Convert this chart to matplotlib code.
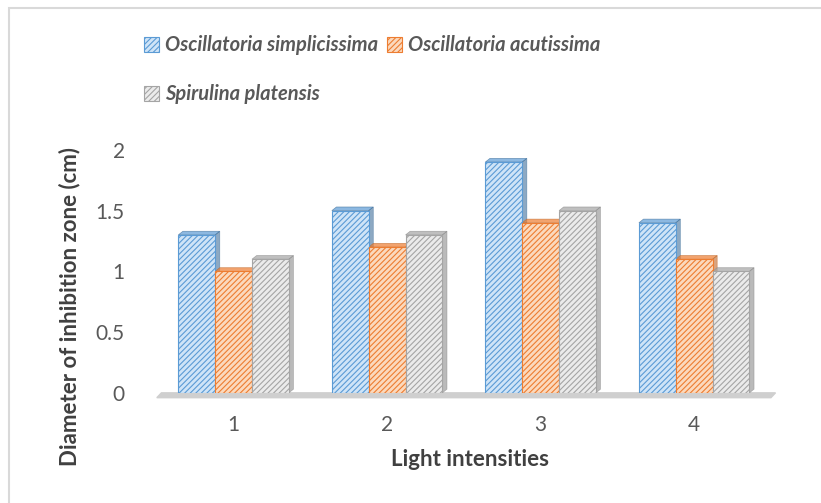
import numpy as np
import matplotlib.pyplot as plt
from matplotlib.patches import Polygon, Rectangle

plt.rcParams['font.family'] = ['Lato', 'DejaVu Sans']
plt.rcParams['hatch.linewidth'] = 0.8

# data
categories = ['1', '2', '3', '4']
species = ['Oscillatoria simplicissima', 'Oscillatoria acutissima', 'Spirulina platensis']
osc_simplicissima = [1.3, 1.5, 1.9, 1.4]
osc_acutissima = [1.0, 1.2, 1.4, 1.1]
spirulina = [1.1, 1.3, 1.5, 1.0]

series = [osc_simplicissima, osc_acutissima, spirulina]
fills = ['#cfe4f7', '#fbd9bd', '#ebebeb']
edges = ['#5b9bd5', '#ed7d31', '#a5a5a5']
shade = ['#41719c', '#c0682a', '#8c8c8c']

fig = plt.figure(figsize=(8.21, 5.03), dpi=100)
ax = fig.add_axes([0.191, 0.219, 0.748, 0.483])

x = np.arange(1, len(categories) + 1)
w = 0.24
dx, dy = 0.03, 0.03  # depth of the fake 3d faces

# floor under the bars
ax.add_patch(Polygon([[0.5, -0.04], [4.5, -0.04], [4.5 + dx, 0.0], [0.5 + dx, 0.0]],
                     closed=True, color='#cfcfcf', zorder=1, clip_on=False))

handles = []
for i, vals in enumerate(series):
    pos = x + (i - 1) * w
    b = ax.bar(pos, vals, width=w, color=fills[i], edgecolor=edges[i], hatch='//////',
               linewidth=0.8, zorder=3 + i * 0.01)
    handles.append(b)
    for p, v in zip(pos, vals):
        l, r = p - w / 2, p + w / 2
        # top face
        ax.add_patch(Polygon([[l, v], [r, v], [r + dx, v + dy], [l + dx, v + dy]],
                             closed=True, facecolor=edges[i], edgecolor=shade[i],
                             lw=0.5, alpha=0.7, zorder=2.5 + i * 0.01))
        # side face
        ax.add_patch(Polygon([[r, 0], [r + dx, dy], [r + dx, v + dy], [r, v]],
                             closed=True, facecolor=shade[i], edgecolor=shade[i],
                             lw=0.5, alpha=0.6, zorder=2.5 + i * 0.01))

ax.set_xlim(0.5, 4.5)
ax.set_ylim(0, 2)
ax.set_yticks([0, 0.5, 1, 1.5, 2])
ax.set_yticklabels(['0', '0.5', '1', '1.5', '2'])
ax.set_xticks(x)
ax.set_xticklabels(categories)
ax.tick_params(length=0, labelsize=15, colors='#595959')
ax.tick_params(axis='y', pad=23)
ax.tick_params(axis='x', pad=16)
for s in ax.spines.values():
    s.set_visible(False)

ax.set_xlabel('Light intensities', fontsize=16, fontweight='bold', color='#404040')
ax.set_ylabel('Diameter of inhibition zone (cm)', fontsize=16, fontweight='bold',
              color='#404040')
ax.xaxis.set_label_coords(0.51, -0.23)
ax.yaxis.set_label_coords(-0.125, 0.354)

# legend: two entries on first row, one on second
order = [0, 2, 1]
leg = fig.legend([handles[k] for k in order], [species[k] for k in order],
                 loc='upper left', bbox_to_anchor=(0.166, 0.946), ncol=2, frameon=False,
                 prop={'style': 'italic', 'weight': 'bold', 'size': 14.5},
                 handlelength=0.75, handleheight=0.75, handletextpad=0.3,
                 columnspacing=0.4, labelspacing=1.45, borderaxespad=0)
for t in leg.get_texts():
    t.set_color('#595959')

# chart border
fig.add_artist(Rectangle((0.011, -0.1), 1.1, 1.084, transform=fig.transFigure,
                         fill=False, edgecolor='#d9d9d9', lw=1.5))

fig.savefig('out.png', dpi=100)
